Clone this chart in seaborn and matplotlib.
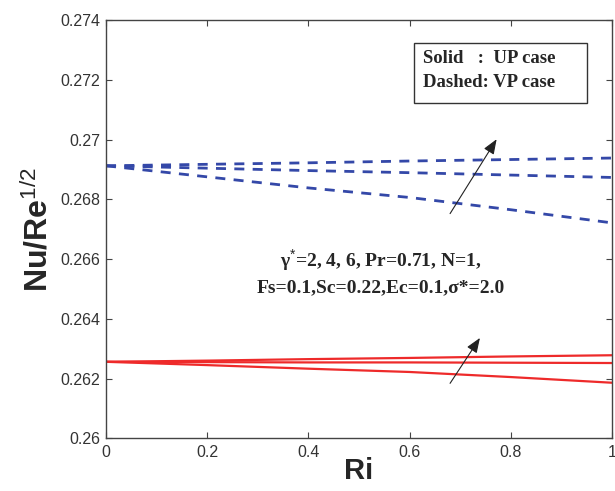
import matplotlib
matplotlib.use("Agg")
import matplotlib.pyplot as plt
import matplotlib.patches as mpatches
import seaborn as sns

# ---- data ----
ri = [0.0, 0.2, 0.4, 0.6, 0.8, 1.0]
vp_gamma2 = [0.26912, 0.26917, 0.26922, 0.26928, 0.26933, 0.26938]
vp_gamma4 = [0.26912, 0.26904, 0.26896, 0.26889, 0.26881, 0.26873]
vp_gamma6 = [0.26912, 0.26875, 0.26838, 0.26806, 0.26765, 0.26721]
up_gamma2 = [0.26256, 0.26260, 0.26265, 0.26269, 0.26274, 0.26278]
up_gamma4 = [0.26256, 0.26255, 0.26254, 0.26254, 0.26253, 0.26252]
up_gamma6 = [0.26256, 0.26245, 0.26233, 0.26222, 0.26205, 0.26186]

x_ticks = [0, 0.2, 0.4, 0.6, 0.8, 1]
x_ticklabels = ["0", "0.2", "0.4", "0.6", "0.8", "1"]
y_ticks = [0.26, 0.262, 0.264, 0.266, 0.268, 0.27, 0.272, 0.274]
y_ticklabels = ["0.26", "0.262", "0.264", "0.266", "0.268", "0.27", "0.272", "0.274"]

BLUE = "#3448A8"
RED = "#EE2A2A"

sns.set_style("ticks")
plt.rcParams["font.family"] = ["Liberation Sans", "DejaVu Sans"]
plt.rcParams["mathtext.fontset"] = "custom"
plt.rcParams["mathtext.rm"] = "Liberation Sans"
plt.rcParams["mathtext.default"] = "rm"

fig = plt.figure(figsize=(6.15, 4.91), dpi=100)
ax = fig.add_axes([0.1724, 0.1073, 0.8227, 0.852])

for ys in (vp_gamma2, vp_gamma4, vp_gamma6):
    sns.lineplot(x=ri, y=ys, ax=ax, color=BLUE, lw=2.0)
    ax.lines[-1].set_dashes((3.6, 3.0))
for ys in (up_gamma2, up_gamma4, up_gamma6):
    sns.lineplot(x=ri, y=ys, ax=ax, color=RED, lw=1.6)

ax.set_xlim(0, 1)
ax.set_ylim(0.26, 0.274)
ax.set_xticks(x_ticks)
ax.set_xticklabels(x_ticklabels)
ax.set_yticks(y_ticks)
ax.set_yticklabels(y_ticklabels)
ax.tick_params(direction="in", top=True, right=True, length=4, width=0.8,
               labelsize=11.5, labelcolor="#333333", color="#444444")
ax.tick_params(axis="x", pad=5)
ax.tick_params(axis="y", pad=4)
for s in ax.spines.values():
    s.set_color("#444444")
    s.set_linewidth(1.0)

ax.set_xlabel("Ri", fontsize=21, fontweight="bold", labelpad=-2)
ax.set_ylabel(r"Nu/Re$^{1/2}$", fontsize=23, fontweight="bold", labelpad=4)

# arrows showing increase in gamma*
arr = dict(arrowstyle="-|>,head_length=0.9,head_width=0.35", color="#222222",
           lw=0.8, shrinkA=0, shrinkB=0)
ax.annotate("", xy=(0.772, 0.27001), xytext=(0.680, 0.26752), arrowprops=arr)
ax.annotate("", xy=(0.739, 0.26336), xytext=(0.680, 0.26184), arrowprops=arr)

serif = ["Liberation Serif", "DejaVu Serif"]
ax.text(0.5435, 0.398,
        "γ$^{*}$=2, 4, 6, Pr=0.71, N=1,\nFs=0.1,Sc=0.22,Ec=0.1,σ*=2.0",
        transform=ax.transAxes, ha="center", va="center", fontsize=14,
        fontweight="bold", family=serif, linespacing=1.45)

# legend box
ax.add_patch(mpatches.Rectangle((0.6087, 0.8016), 0.3419, 0.1441,
                                transform=ax.transAxes, fill=False,
                                edgecolor="#333333", lw=1.0))
ax.text(0.6265, 0.909, "Solid   :  UP case", transform=ax.transAxes,
        ha="left", va="center", fontsize=13.5, fontweight="bold", family=serif)
ax.text(0.6265, 0.850, "Dashed: VP case", transform=ax.transAxes,
        ha="left", va="center", fontsize=13.5, fontweight="bold", family=serif)

fig.savefig("out.png", dpi=100)
